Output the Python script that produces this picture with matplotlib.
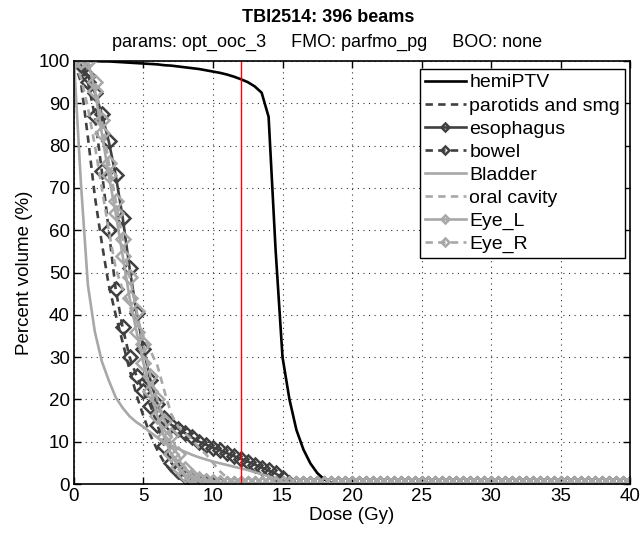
import numpy as np
import matplotlib
matplotlib.use("Agg")
import matplotlib.pyplot as plt

plt.rcParams['font.family'] = ['Liberation Sans', 'DejaVu Sans']

# dose bins (Gy), 0.5 Gy steps
dose = np.arange(0, 40.5, 0.5)

# DVH values (% volume), one value per bin, zeros after the end
hemi_ptv = [100, 100, 100, 100, 99.9, 99.9, 99.8, 99.7, 99.6, 99.5, 99.4, 99.3,
            99.2, 99.0, 98.9, 98.7, 98.5, 98.3, 98.1, 97.8, 97.5, 97.2, 96.8,
            96.3, 95.7, 95.0, 94.0, 92.5, 86.8, 55.5, 30, 20, 12.8, 8.2, 4.9,
            2.6, 1.1, 0.3]
parotids = [100, 95, 82, 68, 57, 47, 40, 33.5, 27, 21, 16, 11.5, 8, 5, 3, 1.5,
            0.7, 0.2]
esophagus = [100, 99, 96.5, 92.5, 87.5, 81, 73, 63, 51, 40.5, 32, 24.5, 19,
             15.5, 14, 13, 12, 11, 10, 9.3, 8.6, 8, 7.3, 6.6, 6, 5.3, 4.6, 3.9,
             3.2, 2.5, 1.4, 0.3]
bowel = [100, 99, 95, 87, 74, 60, 46, 37, 30, 25.5, 22, 18.5, 14, 9, 5, 3, 1.8,
         1, 0.5, 0.2]
bladder = [100, 71, 47, 36, 29, 24.5, 20.5, 18, 16, 14.6, 13.5, 12.2, 11, 10,
           9.1, 8.3, 7.6, 6.9, 6.3, 5.8, 5.3, 4.9, 4.5, 4.1, 3.7, 3.3, 2.8, 2.3,
           1.8, 1.3, 0.6]
oral_cavity = [100, 96, 89, 80, 70, 60, 51, 46, 42, 38.5, 35, 31.5, 28, 22,
               16.5, 13.5, 12, 10.5, 8.5, 7, 5, 3, 1.5, 0.5]
eye_l = [100, 100, 100, 93, 83, 73, 64, 54, 44, 36, 28.5, 22, 16, 11, 7, 4,
         2.2, 1.5, 1, 0.7, 0.4, 0.2]
eye_r = [100, 100, 100, 95, 86, 76, 67, 58, 49, 41, 33, 25.5, 20, 15, 11.5, 7,
         3.5, 2, 1.2, 0.8, 0.5, 0.2]

names = ['hemiPTV', 'parotids and smg', 'esophagus', 'bowel', 'Bladder',
         'oral cavity', 'Eye_L', 'Eye_R']
curves = [hemi_ptv, parotids, esophagus, bowel, bladder, oral_cavity, eye_l, eye_r]

dark = '#404040'
light = '#a8a8a8'
dash = (0, (2.8, 2.0))
styles = [
    dict(color='black', ls='-', marker=None),
    dict(color=dark, ls=dash, marker=None),
    dict(color=dark, ls='-', marker='D'),
    dict(color=dark, ls=dash, marker='D'),
    dict(color=light, ls='-', marker=None),
    dict(color=light, ls=dash, marker=None),
    dict(color=light, ls='-', marker='D'),
    dict(color=light, ls=dash, marker='D'),
]

fig = plt.figure(figsize=(6.44, 5.35), dpi=100)
ax = fig.add_axes([0.1149, 0.0953, 0.8634, 0.7907])

for name, vals, st in zip(names, curves, styles):
    v = np.array(vals + [0.0] * (len(dose) - len(vals)))
    ax.plot(dose, v, color=st['color'], ls=st['ls'], lw=1.9,
            marker=st['marker'], ms=7.2, mfc='none', mew=1.8, label=name)

ax.plot([12, 12], [0, 100], color='red', lw=1.0)

ax.set_xlim(0, 40)
ax.set_ylim(0, 100)
ax.set_xticks(np.arange(0, 41, 5))
ax.set_yticks(np.arange(0, 101, 10))
ax.tick_params(direction='in', length=5, width=1, top=True, right=True,
               labelsize=13.5, pad=3)
ax.grid(True, ls=(0, (1, 4)), color='#333333', lw=0.8)
for s in ax.spines.values():
    s.set_linewidth(1.2)

ax.set_xlabel('Dose (Gy)', fontsize=13.5, labelpad=1)
ax.set_ylabel('Percent volume (%)', fontsize=13.5, labelpad=4)

fig.text(0.510, 0.968, 'TBI2514: 396 beams', ha='center', va='center',
         fontsize=13, fontweight='bold')
fig.text(0.508, 0.920,
         'params: opt_ooc_3     FMO: parfmo_pg     BOO: none',
         ha='center', va='center', fontsize=13)

leg = ax.legend(loc='upper right', bbox_to_anchor=(0.991, 0.981),
                fontsize=14, frameon=True, fancybox=False, borderaxespad=0,
                handlelength=2.1, handletextpad=0.2, labelspacing=0.28,
                borderpad=0.25, markerscale=0.6)
leg.get_frame().set_edgecolor('black')
leg.get_frame().set_linewidth(1.0)
leg.get_frame().set_alpha(1)

fig.savefig('out.png', dpi=100)
